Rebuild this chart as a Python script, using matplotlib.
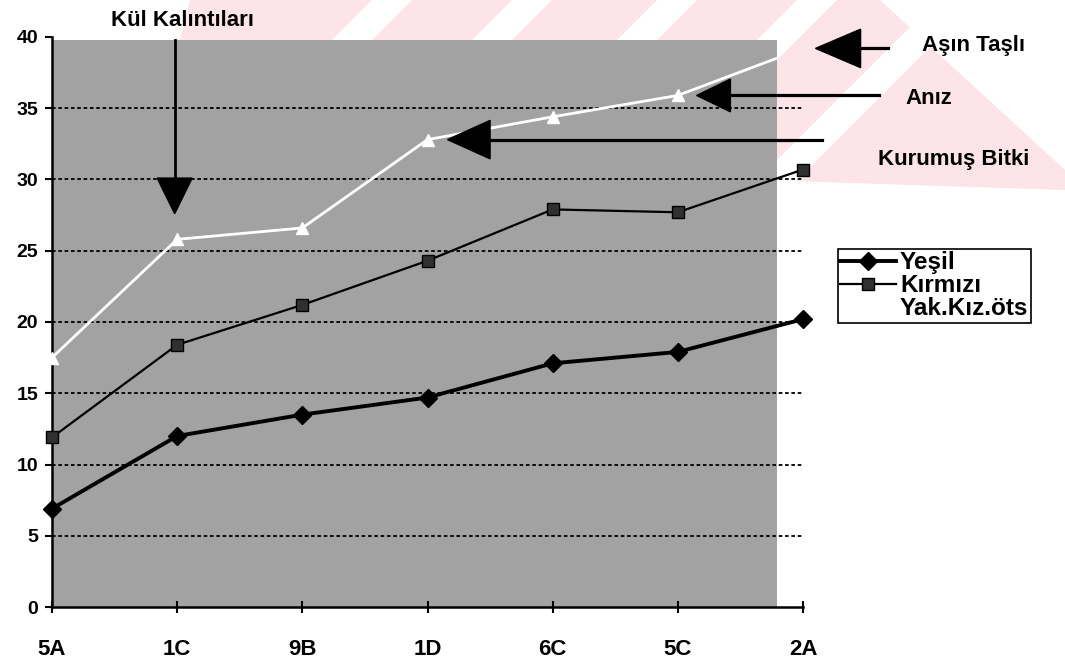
import numpy as np
import matplotlib.pyplot as plt
from matplotlib.patches import Polygon, Rectangle

plt.rcParams['font.family'] = ['Liberation Sans', 'DejaVu Sans']
plt.rcParams['font.weight'] = 'bold'

# Örnek noktaları ve ölçümler
konumlar = ['5A', '1C', '9B', '1D', '6C', '5C', '2A']
yesil = [6.9, 12.0, 13.5, 14.7, 17.1, 17.9, 20.2]
kirmizi = [11.9, 18.4, 21.2, 24.3, 27.9, 27.7, 30.7]
yak_kiz = [17.5, 25.8, 26.6, 32.8, 34.4, 35.9, 39.2]
seri_adlari = ['Yeşil', 'Kırmızı', 'Yak.Kız.öts']

W, H = 1065, 663
fig = plt.figure(figsize=(W / 100, H / 100), dpi=100)
ax = fig.add_axes([52 / W, 1 - 607 / H, (803 - 52) / W, (607 - 37) / H])
ax.set_facecolor('none')

# gri zemin (çizim alanı, eksenden biraz taşıyor)
zemin = Rectangle((38 / W, 1 - 613 / H), (777 - 38) / W, (613 - 40) / H,
                  transform=fig.transFigure, facecolor='#a2a2a2',
                  edgecolor='none', zorder=0)
ax.add_patch(zemin)

x = np.arange(len(konumlar))
for v in range(5, 40, 5):
    ax.axhline(v, color='black', lw=1.3, ls=(0, (2, 1.5)), zorder=1)

l1, = ax.plot(x, yesil, color='black', lw=2.8, marker='D', ms=9,
              clip_on=False, zorder=4)
l2, = ax.plot(x, kirmizi, color='black', lw=1.6, marker='s', ms=9,
              mfc='#303030', clip_on=False, zorder=4)
l3, = ax.plot(x, yak_kiz, color='white', lw=2, marker='^', ms=9, zorder=3)
# beyaz seri yalnızca gri zemin üzerinde görünür
l3.set_clip_path(zemin)

ax.set_xlim(0, 6)
ax.set_ylim(0, 40)
ax.set_yticks(range(0, 41, 5))
ax.set_xticks(x, konumlar)
for s in ['top', 'right']:
    ax.spines[s].set_visible(False)
for s in ['left', 'bottom']:
    ax.spines[s].set_linewidth(1.8)
    ax.spines[s].set_zorder(2)
ax.tick_params(axis='y', direction='out', length=5, width=1.5, pad=5, labelsize=14)
ax.tick_params(axis='x', direction='inout', length=8, width=1.5, pad=19, labelsize=16)


def ok(uc_x, uc_y, taban_x, yari_h, cizgi_son):
    ax.plot([taban_x, cizgi_son], [uc_y, uc_y], color='black', lw=2.3,
            clip_on=False, zorder=5)
    ax.add_patch(Polygon([(uc_x, uc_y), (taban_x, uc_y + yari_h),
                          (taban_x, uc_y - yari_h)], closed=True,
                         color='black', clip_on=False, zorder=5))


# yatay oklar
ok(3.16, yak_kiz[3], 3.50, 1.35, 6.15)
ok(5.15, yak_kiz[5], 5.42, 1.15, 6.61)
ok(6.10, yak_kiz[6], 6.46, 1.35, 6.68)

# dikey ok
kx = 0.98
ax.plot([kx, kx], [39.8, 30.1], color='black', lw=2, clip_on=False, zorder=5)
ax.add_patch(Polygon([(kx - 0.14, 30.1), (kx + 0.14, 30.1),
                      (kx, yak_kiz[1] + 1.8)], closed=True, color='black',
                     clip_on=False, zorder=5))

fig.text(182 / W, 1 - 20 / H, 'Kül Kalıntıları', ha='center', va='center', fontsize=16)
fig.text(922 / W, 1 - 45 / H, 'Aşın Taşlı', ha='left', va='center', fontsize=16)
fig.text(905 / W, 1 - 98 / H, 'Anız', ha='left', va='center', fontsize=16)
fig.text(878 / W, 1 - 160 / H, 'Kurumuş Bitki', ha='left', va='center', fontsize=16)

leg = ax.legend([l1, l2, l3], seri_adlari, loc='upper left',
                bbox_to_anchor=(838 / W, 1 - 249 / H), bbox_transform=fig.transFigure,
                frameon=True, fancybox=False, edgecolor='black', framealpha=1,
                borderpad=0.1, labelspacing=0.0, handlelength=2.3,
                handletextpad=0.15, borderaxespad=0, prop={'weight': 'bold', 'size': 17.5})
leg.get_frame().set_linewidth(1.2)

# soluk pembe filigran şeritleri (gri zeminin arkasında kalır)
zarf = Polygon([(190 / W, 1.0), (880 / W, 1.0), (1.0, 1 - 170 / H), (1.0, 1 - 190 / H),
                (150 / W, 1 - 160 / H)], closed=True, transform=fig.transFigure,
               facecolor='none', edgecolor='none')
fig.add_artist(zarf)
bosluklar = [372, 512, 657, 797, 937]
kenarlar = [100] + bosluklar
for a, b in zip(kenarlar[:-1], kenarlar[1:]):
    sol = a + 40 if a != 100 else a
    p = Polygon([(sol / W, 1.0), (b / W, 1.0), ((b - 200) / W, 1 - 200 / H),
                 ((sol - 200) / W, 1 - 200 / H)], closed=True,
                transform=fig.transFigure, facecolor='#fce4e8', edgecolor='none',
                zorder=-1)
    fig.add_artist(p)
    p.set_clip_path(zarf)
p = Polygon([(977 / W, 1.0), (1.0, 1.0), (1.0, 1 - 200 / H), (777 / W, 1 - 200 / H)],
            closed=True, transform=fig.transFigure, facecolor='#fce4e8',
            edgecolor='none', zorder=-1)
fig.add_artist(p)
p.set_clip_path(zarf)

fig.savefig('out.png', dpi=100)
